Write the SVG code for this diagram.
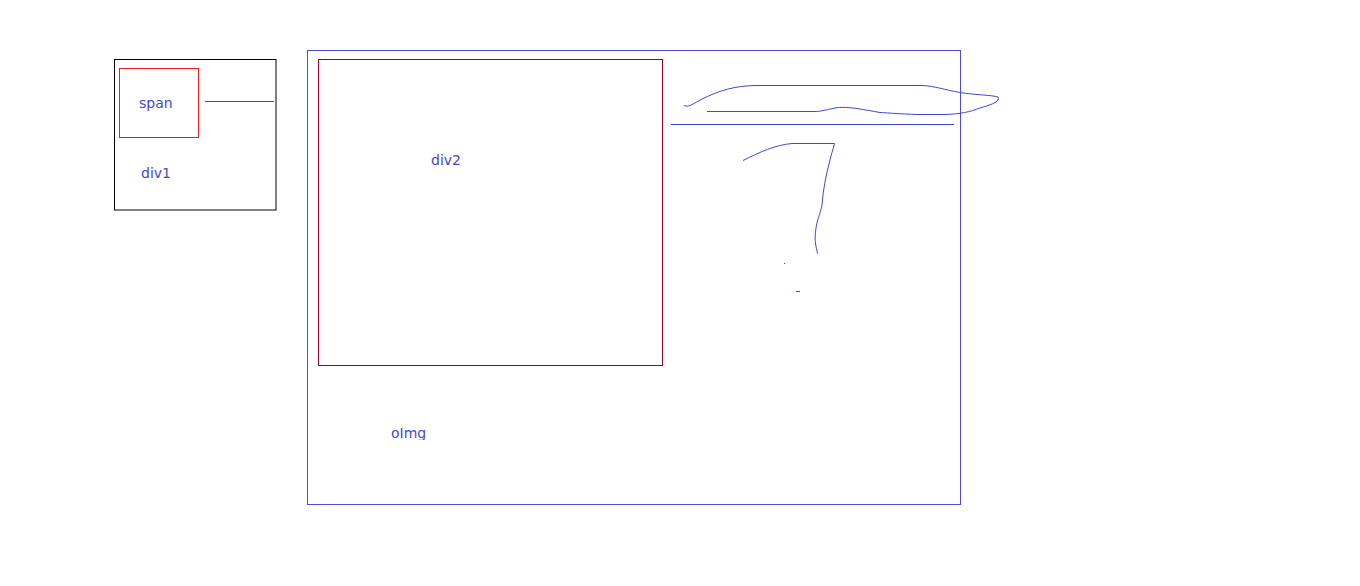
<svg xmlns="http://www.w3.org/2000/svg" width="1360" height="586" viewBox="0 0 1360 586">
<defs>
<style>
.lbl{font-family:"DejaVu Sans","Liberation Sans",sans-serif;font-size:14px;fill:#4646d2}
.stroke{fill:none;stroke:#3f48cc;stroke-width:1}
</style>
<clipPath id="clipImg"><rect x="300" y="420" width="200" height="20"/></clipPath>
</defs>
<rect width="1360" height="586" fill="#ffffff"/>
<g id="outer">
<rect x="307.5" y="50.5" width="653" height="454" fill="none" stroke="#4b4bde" stroke-width="1"/>
<text class="lbl" x="391" y="438" clip-path="url(#clipImg)">oImg</text>
</g>
<g id="div1">
<rect x="114.5" y="59.5" width="161.5" height="150.5" fill="none" stroke="#000000" stroke-width="1"/>
<text class="lbl" x="141" y="178">div1</text>
</g>
<g id="span">
<rect x="119.5" y="68.5" width="79" height="69" fill="none" stroke="#ed1c24" stroke-width="1"/>
<text class="lbl" x="139" y="108">span</text>
</g>
<g id="div2">
<rect x="318.5" y="59.5" width="344" height="306" fill="none" stroke="#990030" stroke-width="1"/>
<text class="lbl" x="431" y="165">div2</text>
</g>
<g id="connectors">
<line class="stroke" x1="205" y1="101.5" x2="274" y2="101.5"/>
<line class="stroke" x1="671" y1="124.5" x2="954" y2="124.5"/>
<path class="stroke" d="M684,105.5 C688,107 690,106 700,100 C720,90 735,86 755,85.5 L922,85.5 C935,86 945,90 960,92.5 C975,95 992,95 998,97 C1000,101 994,104 980,108 C970,112 960,114 945,114.5 L918,114.5 C900,114 890,113 880,112.5 C872,111 866,110 857,108.5 C845,107 838,107 833,108.5 C825,110 820,111.5 816,111.5 L707,111.5"/>
<path class="stroke" d="M743,160.5 C760,152 775,145 792,143.5 L834.5,143.5 C833,150 831,155 830,160 C826,175 823,190 822,205 C820,215 817,220 816,228 C815,235 815,240 815.5,243 C816,248 817,250 817.5,253.5"/>
<rect x="784" y="263" width="1" height="1" fill="#3f48cc"/>
<line class="stroke" x1="796" y1="291.5" x2="800" y2="291.5"/>
</g>
</svg>
